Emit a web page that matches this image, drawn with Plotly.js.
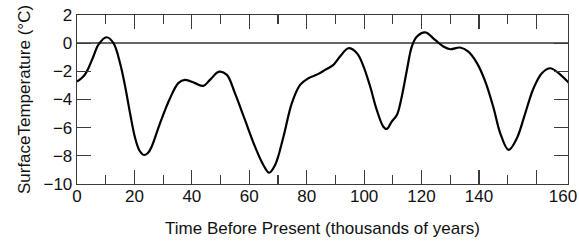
<!DOCTYPE html>
<html><head><meta charset="utf-8">
<script src="https://cdn.plot.ly/plotly-3.0.1.min.js"></script>
<style>html,body{margin:0;padding:0;background:#fff}</style>
</head><body><div id="chart" style="width:579px;height:244px"></div>
<script>
// Time before present (thousands of years, on the figure's tick scale)
const timeKyr = [0, 2.2, 3.4, 5.7, 7.4, 10.3, 12.7, 15, 16.7, 18.5, 20.2, 21.7, 23.3, 24.7, 26, 28.9, 32.4, 35.3, 37.6, 41.1, 44, 46.3, 49.5, 52.2, 55, 58.5, 62, 64.9, 66.9, 69, 71.9, 74.8, 77.7, 80.6, 84.1, 86.4, 89.3, 91.6, 94.5, 97.5, 99.8, 102.1, 104.4, 106.7, 107.9, 109.6, 111.4, 113.1, 114.9, 116.6, 118.4, 121.3, 124.7, 127.6, 130, 133.4, 136.3, 139.3, 142.2, 145.1, 147.4, 150.3, 153.2, 156.1, 159, 161.9, 164.8, 167.7, 171.2];
// Surface temperature anomaly (°C)
const tempC = [-2.73, -2.37, -2.02, -0.95, -0.12, 0.42, 0.0, -1.42, -3.0, -5.0, -6.7, -7.6, -7.94, -7.8, -7.35, -5.69, -3.91, -2.84, -2.61, -2.84, -3.03, -2.61, -2.02, -2.25, -3.55, -5.45, -7.35, -8.65, -9.2, -8.65, -6.64, -4.27, -2.96, -2.49, -2.18, -1.9, -1.54, -0.95, -0.36, -0.71, -1.66, -3.08, -4.74, -5.93, -6.09, -5.57, -5.1, -3.8, -1.9, -0.24, 0.47, 0.76, 0.23, -0.24, -0.43, -0.31, -0.6, -1.42, -2.73, -4.62, -6.4, -7.58, -6.75, -4.98, -3.2, -2.13, -1.78, -2.13, -2.8];

const xMajorVals = [0, 20, 40, 60, 80, 100, 120, 140, 160, 171];
const xMajorText = ['0', '20', '40', '60', '80', '100', '120', '140', '', ''];
const xEndLabelVals = [171];
const xEndLabelText = ['160'];
const xMinorVals = [10, 30, 50, 70, 90, 110, 130, 150];
const yTickVals = [-10, -8, -6, -4, -2, 0, 2];

const font = 'Liberation Sans, Arial, Helvetica, sans-serif';
const frame = '#3a3a3a';
const xRange = [0, 171];

const trace = {
  x: timeKyr, y: tempC, type: 'scatter', mode: 'lines',
  line: {color: '#000', width: 2.2, shape: 'spline', smoothing: 1.0},
  hoverinfo: 'skip'
};
// empty trace that only carries the end-label axis
const endAxisTrace = {x: [], y: [], type: 'scatter', mode: 'lines', xaxis: 'x2', yaxis: 'y', hoverinfo: 'skip', showlegend: false};

const layout = {
  width: 579, height: 244,
  margin: {l: 77, r: 11, t: 15, b: 60},
  paper_bgcolor: '#fff', plot_bgcolor: '#fff',
  showlegend: false,
  font: {family: font, color: '#111', size: 17},
  xaxis: {
    range: xRange, showgrid: false, zeroline: false,
    showline: true, linecolor: frame, linewidth: 1.3, mirror: 'ticks',
    tickmode: 'array', tickvals: xMajorVals, ticktext: xMajorText,
    ticks: 'inside', ticklen: 14, tickwidth: 1.2, tickcolor: frame,
    ticklabelstandoff: -4,
    minor: {tickmode: 'array', tickvals: xMinorVals, ticks: 'inside', ticklen: 9, tickwidth: 1.2, tickcolor: frame, showgrid: false},
    tickfont: {family: font, size: 17, color: '#111'},
    title: {text: 'Time Before Present (thousands of years)', font: {family: font, size: 17, color: '#111'}, standoff: 17}
  },
  xaxis2: {
    overlaying: 'x', anchor: 'y', side: 'bottom',
    range: xRange, showgrid: false, zeroline: false, showline: false,
    tickmode: 'array', tickvals: xEndLabelVals, ticktext: xEndLabelText,
    ticks: 'inside', ticklen: 14, tickwidth: 1.2, tickcolor: frame,
    ticklabelshift: -5, ticklabeloverflow: 'allow',
    tickfont: {family: font, size: 17, color: '#111'}
  },
  yaxis: {
    range: [-10, 2], showgrid: false,
    zeroline: true, zerolinecolor: '#666', zerolinewidth: 1.4,
    showline: true, linecolor: frame, linewidth: 1.3, mirror: 'ticks',
    tickmode: 'array', tickvals: yTickVals,
    ticks: 'inside', ticklen: 14, tickwidth: 1.2, tickcolor: frame,
    tickfont: {family: font, size: 17, color: '#111'},
    title: {text: 'SurfaceTemperature (°C)', font: {family: font, size: 17, color: '#111'}, standoff: 8}
  }
};

Plotly.newPlot('chart', [trace, endAxisTrace], layout, {staticPlot: true, displayModeBar: false});
</script></body></html>
